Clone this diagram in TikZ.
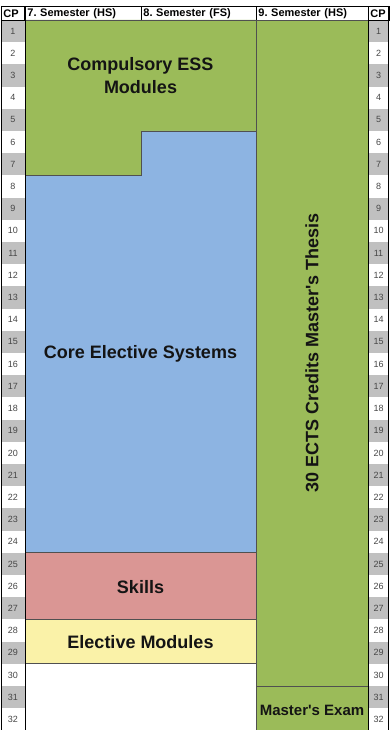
\documentclass[tikz,border=0pt]{standalone}
\usepackage{fontspec}
\setmainfont{Liberation Sans}
\usepackage{tikz}
\frenchspacing
\definecolor{modgreen}{RGB}{155, 187, 89}
\definecolor{coreblue}{RGB}{141, 180, 226}
\definecolor{skillred}{RGB}{218, 150, 148}
\definecolor{electyellow}{RGB}{250, 242, 168}
\definecolor{cpgray}{RGB}{192, 192, 192}
\definecolor{numgray}{RGB}{70, 70, 70}
\definecolor{blockline}{RGB}{80, 80, 80}
\definecolor{textblack}{RGB}{20, 20, 20}

\begin{document}
\begin{tikzpicture}[
        x=1pt, y=-1pt,
        head/.style={rectangle, draw=black, line width=0.8pt, minimum height=14pt, inner ysep=0pt, inner xsep=2pt, align=left, font=\bfseries\fontsize{11}{12}\selectfont, text=black},
        cpnum/.style={font=\fontsize{9}{10}\selectfont, text=numgray},
        block/.style={draw=blockline, line width=0.8pt},
        blocktext/.style={font=\bfseries\fontsize{18}{23}\selectfont, align=center, text=textblack}
    ]
    \useasboundingbox (0,0) rectangle (389,730);

    % CP columns
    \foreach \i in {1,...,32} {
        \pgfmathsetmacro{\top}{20+(\i-1)*22.2}
        \ifodd\i
            \fill[cpgray] (1,\top) rectangle (25,\top+22.2);
            \fill[cpgray] (368,\top) rectangle (389,\top+22.2);
        \fi
        \node[cpnum] (cpl\i) at (13,\top+11.1) {\i};
        \node[cpnum] (cpr\i) at (378.5,\top+11.1) {\i};
    }

    % Header
    \node[head, text width=19pt, anchor=north west] (hcpl) at (1,6) {CP};
    \node[head, text width=112pt, anchor=north west] (hsem7) at (25,6) {7. Semester (HS)};
    \node[head, text width=111pt, anchor=north west] (hsem8) at (141,6) {8. Semester (FS)};
    \node[head, text width=108pt, anchor=north west] (hsem9) at (256,6) {9. Semester (HS)};
    \node[head, text width=17pt, anchor=north west] (hcpr) at (368,6) {CP};

    % Blocks
    \filldraw[block, fill=modgreen] (25,20) -- (256,20) -- (256,131) -- (141,131) -- (141,175.4) -- (25,175.4) -- cycle;
    \filldraw[block, fill=coreblue] (141,131) -- (256,131) -- (256,552.8) -- (25,552.8) -- (25,175.4) -- (141,175.4) -- cycle;
    \filldraw[block, fill=skillred] (25,552.8) rectangle (256,619.4);
    \filldraw[block, fill=electyellow] (25,619.4) rectangle (256,663.8);
    \filldraw[block, fill=modgreen] (256,20) rectangle (368,686);
    \filldraw[block, fill=modgreen] (256,686) rectangle (368,731);

    % Outer lines
    \draw[line width=0.9pt] (1,6) -- (1,731);
    \draw[line width=0.9pt] (25,20) -- (25,731);
    \draw[line width=0.9pt] (368,20) -- (368,731);
    \draw[line width=0.9pt] (388.6,6) -- (388.6,731);

    % Labels
    \node[blocktext] (compulsory) at (140.5,75.5) {Compulsory ESS\\Modules};
    \node[blocktext] (core) at (140.5,354) {Core Elective Systems};
    \node[blocktext] (skills) at (140.5,587) {Skills};
    \node[blocktext] (elective) at (140.5,642.5) {Elective Modules};
    \node[blocktext, rotate=90] (thesis) at (312,353) {30 ECTS Credits Master\textquotesingle s Thesis};
    \node[blocktext, font=\bfseries\fontsize{15}{18}\selectfont] (exam) at (312,710) {Master\textquotesingle s Exam};

\end{tikzpicture}
\end{document}
